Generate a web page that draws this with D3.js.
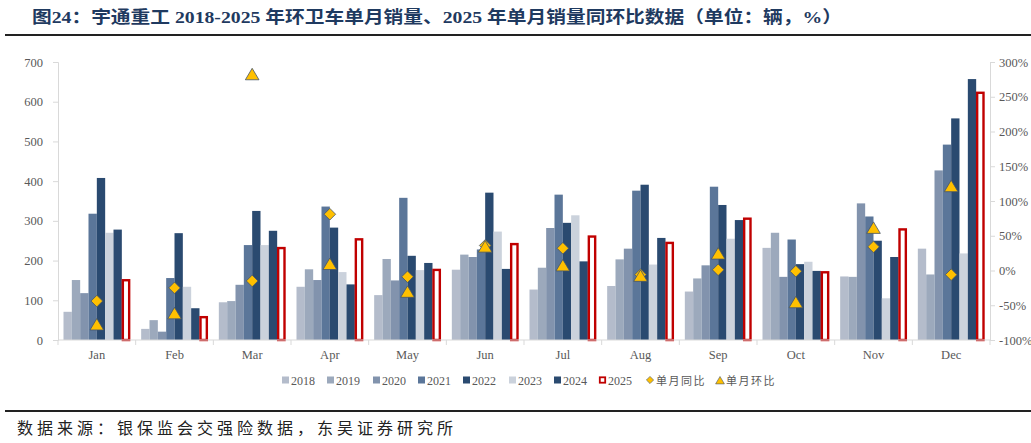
<!DOCTYPE html>
<html>
<head>
<meta charset="utf-8">
<script src="https://cdn.jsdelivr.net/npm/d3@7"></script>
<style>
  body { margin: 0; background: #fff; }
  svg { display: block; }
</style>
</head>
<body>
<svg id="canvas"></svg>
<script>
// values
const months = ['Jan', 'Feb', 'Mar', 'Apr', 'May', 'Jun', 'Jul', 'Aug', 'Sep', 'Oct', 'Nov', 'Dec'];
const years = ['2018', '2019', '2020', '2021', '2022', '2023', '2024', '2025'];

const sales2018 = [71, 28, 95, 134, 113, 177, 127, 136, 122, 232, 160, 230];
const sales2019 = [151, 50, 98, 178, 204, 215, 182, 203, 155, 270, 159, 165];
const sales2020 = [118, 21, 139, 151, 150, 209, 282, 230, 188, 159, 344, 427];
const sales2021 = [318, 156, 239, 336, 358, 228, 366, 376, 386, 253, 311, 492];
const sales2022 = [408, 269, 325, 283, 212, 371, 295, 391, 340, 191, 250, 558];
const sales2023 = [270, 134, 239, 171, 176, 273, 314, 190, 255, 197, 105, 218];
const sales2024 = [278, 80, 275, 140, 194, 179, 198, 257, 302, 174, 209, 657];
const sales2025 = [153, 60, 234, 256, 179, 244, 263, 247, 308, 173, 281, 625];

// 单月同比 / 单月环比, in %
const yoy = [-44, -25, -15, 81, -9, 36, 32, -6, 1, -1, 34, -6];
const mom = [-78, -62, 282, 9, -31, 34, 7, -8, 24, -46, 61, 121];

const leftTicks = [0, 100, 200, 300, 400, 500, 600, 700];
const rightTicks = [-100, -50, 0, 50, 100, 150, 200, 250, 300];

const seriesList = [sales2018, sales2019, sales2020, sales2021, sales2022, sales2023, sales2024, sales2025];
const barColors = ['#b4bccb', '#9ca9bc', '#8293ad', '#5b7699', '#2a4a70', '#cbd2dc', '#2a4a70', '#ffffff'];
const red = '#c00000';
const gold = '#ffc000';
const markerEdge = '#44546a';

const width = 1031;
const height = 443;
const plotLeft = 58;
const plotRight = 990;
const plotTop = 62;
const plotBottom = 340;

const serif = '"Liberation Serif", "Times New Roman", serif';
const cjk = '"Noto Sans CJK SC", sans-serif';

let canvas = d3.select('#canvas')
    .attr('width', width)
    .attr('height', height);

const xScale = d3.scaleBand()
    .domain(months)
    .range([plotLeft, plotRight]);

const innerScale = d3.scaleBand()
    .domain(years)
    .range([0, xScale.bandwidth()])
    .paddingOuter(0.66);

const yScale = d3.scaleLinear()
    .domain([0, 700])
    .range([plotBottom, plotTop]);

const y2Scale = d3.scaleLinear()
    .domain([-100, 300])
    .range([plotBottom, plotTop]);

const diamond = (r) => `M0,${-r}L${r},0L0,${r}L${-r},0Z`;
const triangle = (r) => `M0,${-r}L${r * 1.1},${r * 0.85}L${-r * 1.1},${r * 0.85}Z`;

const drawTitle = () => {
    canvas.append('text')
        .attr('x', 32)
        .attr('y', 23)
        .attr('font-family', serif + ', ' + cjk)
        .attr('font-weight', 'bold')
        .attr('font-size', 17)
        .attr('fill', '#1f3a60')
        .attr('textLength', 810)
        .attr('lengthAdjust', 'spacingAndGlyphs')
        .text('图24：宇通重工 2018-2025 年环卫车单月销量、2025 年单月销量同环比数据（单位：辆，%）');

    canvas.append('line')
        .attr('x1', 5).attr('x2', width)
        .attr('y1', 35).attr('y2', 35)
        .attr('stroke', '#222').attr('stroke-width', 2);

    canvas.append('line')
        .attr('x1', 5).attr('x2', width)
        .attr('y1', 411).attr('y2', 411)
        .attr('stroke', '#222').attr('stroke-width', 2);

    canvas.append('text')
        .attr('x', 17)
        .attr('y', 434)
        .attr('font-family', cjk)
        .attr('font-size', 16)
        .attr('fill', '#222')
        .attr('textLength', 436)
        .attr('lengthAdjust', 'spacing')
        .text('数据来源：银保监会交强险数据，东吴证券研究所');
}

const drawAxes = () => {
    let yAxis = d3.axisLeft(yScale).tickValues(leftTicks).tickSize(5).tickPadding(10);
    let y2Axis = d3.axisRight(y2Scale).tickValues(rightTicks).tickSize(5).tickPadding(4)
        .tickFormat(d => d + '%');
    let xAxis = d3.axisBottom(xScale).tickSize(0).tickPadding(10);

    let gy = canvas.append('g')
        .attr('transform', 'translate(' + plotLeft + ',0)')
        .call(yAxis);
    let gy2 = canvas.append('g')
        .attr('transform', 'translate(' + plotRight + ',0)')
        .call(y2Axis);
    let gx = canvas.append('g')
        .attr('transform', 'translate(0,' + plotBottom + ')')
        .call(xAxis);

    // category boundary ticks
    gx.selectAll('line.sep')
        .data(d3.range(months.length + 1))
        .enter()
        .append('line')
        .attr('class', 'sep')
        .attr('x1', i => plotLeft + i * xScale.step())
        .attr('x2', i => plotLeft + i * xScale.step())
        .attr('y1', 0).attr('y2', 5)
        .attr('stroke', '#d9d9d9');

    [gy, gy2, gx].forEach(g => {
        g.selectAll('.domain').attr('stroke', '#d9d9d9');
        g.selectAll('.tick line').attr('stroke', '#d9d9d9');
        g.selectAll('text')
            .attr('font-family', serif)
            .attr('font-size', 12.5)
            .attr('fill', '#595959');
    });
    gx.select('.domain').attr('d', 'M' + plotLeft + ',0H' + plotRight);
}

const drawBars = () => {
    seriesList.forEach((series, k) => {
        let isLast = k === seriesList.length - 1;
        canvas.append('g')
            .selectAll('rect')
            .data(series)
            .enter()
            .append('rect')
            .attr('x', (d, i) => xScale(months[i]) + innerScale(years[k]) + (isLast ? 1 : 0))
            .attr('y', d => yScale(d) + (isLast ? 1 : 0))
            .attr('width', innerScale.bandwidth() - (isLast ? 2 : 0))
            .attr('height', d => yScale(0) - yScale(d) - (isLast ? 1 : 0))
            .attr('fill', barColors[k])
            .attr('stroke', isLast ? red : 'none')
            .attr('stroke-width', isLast ? 2.4 : 0);
    });
}

const drawMarkers = () => {
    let cx = i => xScale(months[i]) + xScale.bandwidth() / 2;

    canvas.append('g')
        .selectAll('path')
        .data(yoy)
        .enter()
        .append('path')
        .attr('d', diamond(5.8))
        .attr('transform', (d, i) => 'translate(' + cx(i) + ',' + y2Scale(d) + ')')
        .attr('fill', gold)
        .attr('stroke', markerEdge)
        .attr('stroke-width', 0.8);

    canvas.append('g')
        .selectAll('path')
        .data(mom)
        .enter()
        .append('path')
        .attr('d', triangle(6.2))
        .attr('transform', (d, i) => 'translate(' + cx(i) + ',' + y2Scale(d) + ')')
        .attr('fill', gold)
        .attr('stroke', markerEdge)
        .attr('stroke-width', 0.8);
}

const drawLegend = () => {
    const labels = years.concat(['单月同比', '单月环比']);
    const xs = [282, 327, 373, 418, 463, 509, 554, 599, 646, 716];
    const ly = 380;

    let items = canvas.append('g')
        .selectAll('g')
        .data(labels)
        .enter()
        .append('g')
        .attr('transform', (d, i) => 'translate(' + xs[i] + ',' + ly + ')');

    items.each(function (d, i) {
        let g = d3.select(this);
        if (i < 7) {
            g.append('rect').attr('x', 0).attr('y', -3.5).attr('width', 7).attr('height', 7)
                .attr('fill', barColors[i]);
        } else if (i === 7) {
            g.append('rect').attr('x', 0.8).attr('y', -2.7).attr('width', 5.4).attr('height', 5.4)
                .attr('fill', '#fff').attr('stroke', red).attr('stroke-width', 1.8);
        } else if (i === 8) {
            g.append('path').attr('d', diamond(3.6)).attr('transform', 'translate(4,0)')
                .attr('fill', gold).attr('stroke', markerEdge).attr('stroke-width', 0.6);
        } else {
            g.append('path').attr('d', triangle(4)).attr('transform', 'translate(4,0.5)')
                .attr('fill', gold).attr('stroke', markerEdge).attr('stroke-width', 0.6);
        }
        g.append('text')
            .attr('x', i < 8 ? 9 : 10)
            .attr('y', 4.5)
            .attr('font-family', i < 8 ? serif : cjk)
            .attr('font-size', i < 8 ? 12 : 11)
            .attr('letter-spacing', i < 8 ? 0 : 1.5)
            .attr('fill', '#595959')
            .text(d);
    });
}

drawTitle();
drawBars();
drawAxes();
drawMarkers();
drawLegend();
</script>
</body>
</html>
